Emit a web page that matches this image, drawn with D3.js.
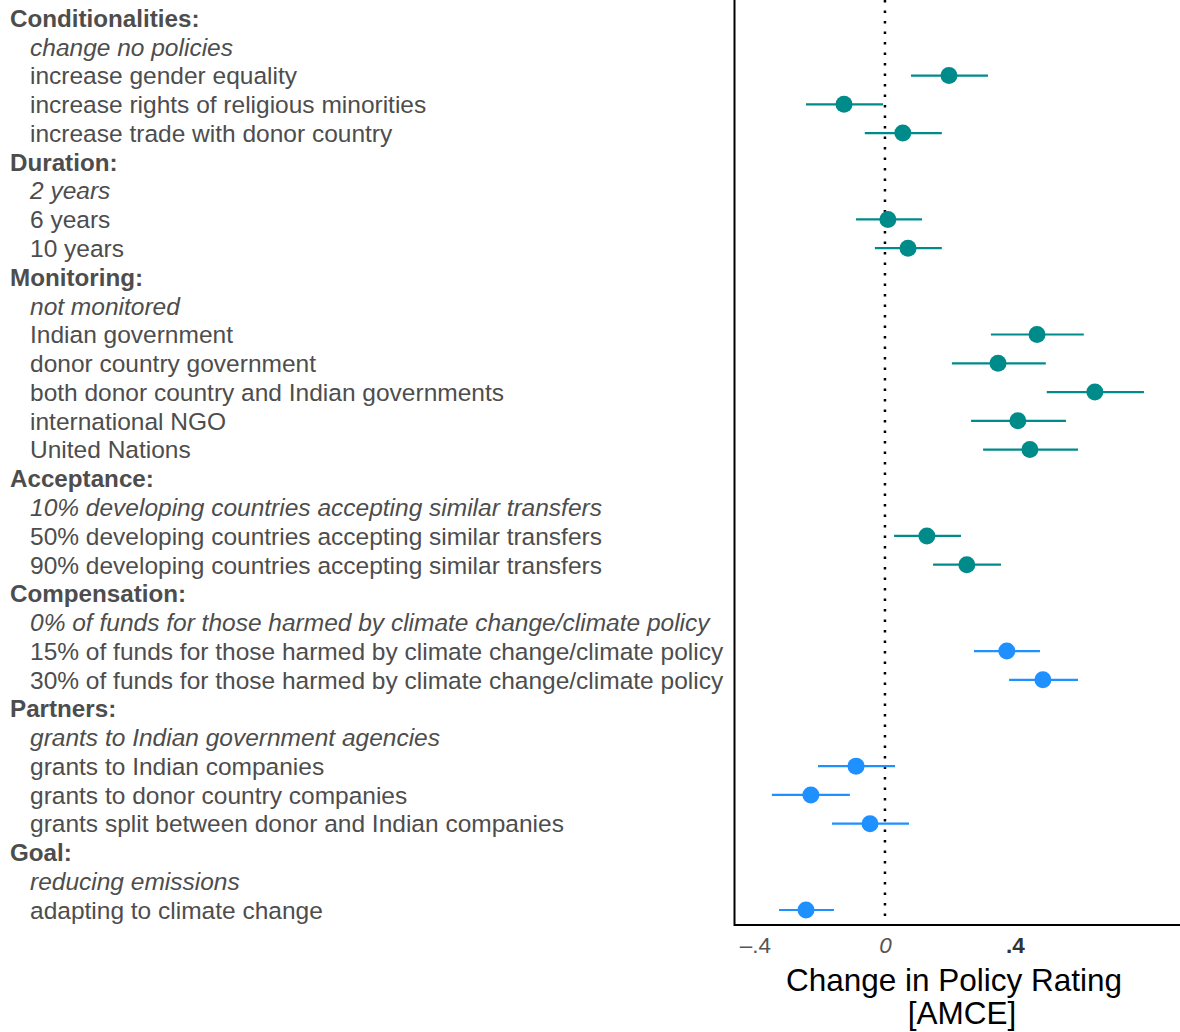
<!DOCTYPE html>
<html><head><meta charset="utf-8">
<script src="https://cdn.jsdelivr.net/npm/d3@7"></script>
<style>body{margin:0;background:#fff;}svg{display:block;}</style>
</head><body>
<script>
const labels = ["Conditionalities:","change no policies","increase gender equality","increase rights of religious minorities","increase trade with donor country",
"Duration:","2 years","6 years","10 years",
"Monitoring:","not monitored","Indian government","donor country government","both donor country and Indian governments","international NGO","United Nations",
"Acceptance:","10% developing countries accepting similar transfers","50% developing countries accepting similar transfers","90% developing countries accepting similar transfers",
"Compensation:","0% of funds for those harmed by climate change/climate policy","15% of funds for those harmed by climate change/climate policy","30% of funds for those harmed by climate change/climate policy",
"Partners:","grants to Indian government agencies","grants to Indian companies","grants to donor country companies","grants split between donor and Indian companies",
"Goal:","reducing emissions","adapting to climate change"];
// kind: h=header, r=reference level (italic), e=estimate
const kinds = ["h","r","e","e","e","h","r","e","e","h","r","e","e","e","e","e","h","r","e","e","h","r","e","e","h","r","e","e","e","h","r","e"];
const estimates = [null,null,0.197,-0.126,0.055,null,null,0.009,0.071,null,null,0.468,0.348,0.646,0.409,0.446,null,null,0.129,0.252,null,null,0.375,0.486,null,null,-0.089,-0.228,-0.046,null,null,-0.243];
const lower = [null,null,0.080,-0.243,-0.062,null,null,-0.089,-0.031,null,null,0.326,0.206,0.498,0.265,0.302,null,null,0.028,0.148,null,null,0.274,0.382,null,null,-0.206,-0.348,-0.163,null,null,-0.326];
const upper = [null,null,0.317,-0.006,0.175,null,null,0.114,0.175,null,null,0.612,0.495,0.797,0.557,0.594,null,null,0.234,0.357,null,null,0.477,0.594,null,null,0.031,-0.108,0.074,null,null,-0.157];
const group = ["a","a","a","a","a","a","a","a","a","a","a","a","a","a","a","a","a","a","a","a","b","b","b","b","b","b","b","b","b","b","b","b"];
const tickValues = [-0.4, 0, 0.4];
const tickLabels = ["\u2013.4","0",".4"];
const colors = {a:"#008B8B", b:"#1E90FF"};

const W=1180,H=1032;
const svg=d3.select("body").append("svg").attr("width",W).attr("height",H);
const font="'Liberation Sans', Arial, sans-serif";
const x=d3.scaleLinear().domain([-0.4615,0.908]).range([735,1180]);
const y=d3.scalePoint().domain(d3.range(labels.length)).range([18,910]);

// labels
svg.append("g").selectAll("text").data(labels).join("text")
 .attr("x",(d,i)=>kinds[i]==="h"?10:30)
 .attr("y",(d,i)=>y(i)).attr("dy","0.36em")
 .attr("font-family",font)
 .attr("font-size",(d,i)=>kinds[i]==="h"?24.2:24.5)
 .attr("font-weight",(d,i)=>kinds[i]==="h"?"bold":"normal")
 .attr("font-style",(d,i)=>kinds[i]==="r"?"italic":"normal")
 .attr("fill","#4d4d4d").text(d=>d);

// zero line
svg.append("line").attr("x1",x(0)).attr("x2",x(0)).attr("y1",0).attr("y2",925)
 .attr("stroke","#000").attr("stroke-width",2.5).attr("stroke-dasharray","2.5,8");

const idx=d3.range(labels.length).filter(i=>estimates[i]!==null);
svg.append("g").selectAll("line").data(idx).join("line")
 .attr("x1",i=>x(lower[i])).attr("x2",i=>x(upper[i]))
 .attr("y1",i=>y(i)).attr("y2",i=>y(i))
 .attr("stroke",i=>colors[group[i]]).attr("stroke-width",2.2);
svg.append("g").selectAll("circle").data(idx).join("circle")
 .attr("cx",i=>x(estimates[i])).attr("cy",i=>y(i)).attr("r",8.5)
 .attr("fill",i=>colors[group[i]]);

// axes lines
svg.append("line").attr("x1",734.5).attr("x2",734.5).attr("y1",0).attr("y2",926).attr("stroke","#000").attr("stroke-width",2);
svg.append("line").attr("x1",734).attr("x2",1180).attr("y1",925).attr("y2",925).attr("stroke","#000").attr("stroke-width",2);

// ticks
const ax=d3.axisBottom(x).tickValues(tickValues).tickSize(0).tickFormat((d,i)=>tickLabels[i]);
const g=svg.append("g").attr("transform","translate(0,935)").call(ax);
g.select(".domain").remove();
g.selectAll("text").attr("font-family",font).attr("font-size",22.5).attr("dy","0.71em").attr("y",2)
 .attr("fill",(d,i)=>i===2?"#333":"#555")
 .attr("font-style",(d,i)=>i===1?"italic":"normal")
 .attr("font-weight",(d,i)=>i===2?"bold":"normal");

svg.append("text").attr("x",954).attr("y",991).attr("text-anchor","middle").attr("font-family",font).attr("font-size",31.5).attr("fill","#000").text("Change in Policy Rating");
svg.append("text").attr("x",962).attr("y",1024).attr("text-anchor","middle").attr("font-family",font).attr("font-size",31.5).attr("fill","#000").text("[AMCE]");
</script>
</body></html>
